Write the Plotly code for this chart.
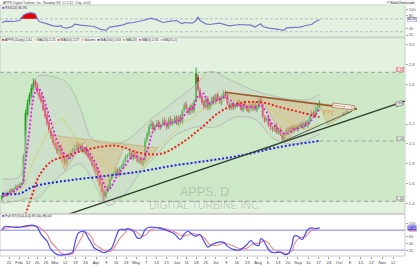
import plotly.graph_objects as go
import pandas as pd

# ---------------- data ----------------
opens = [1.45,1.47,1.50,1.48,1.51,1.54,1.52,1.55,1.58,1.56,
         1.59,1.61,1.88,2.30,2.42,2.48,2.55,2.63,2.60,2.52,
         2.49,2.44,2.36,2.29,2.22,2.13,2.09,2.01,1.99,1.92,
         1.98,1.90,1.86,1.80,1.86,1.87,1.92,1.93,1.97,2.00,
         1.94,1.99,1.92,1.96,1.91,1.88,1.85,1.80,1.77,1.73,
         1.66,1.60,1.53,1.47,1.52,1.56,1.65,1.69,1.71,1.74,
         1.69,1.76,1.77,1.83,1.87,1.89,1.91,1.85,1.91,1.88,
         1.82,1.86,1.80,1.84,2.04,2.09,2.18,2.21,2.14,2.19,
         2.22,2.16,2.20,2.24,2.21,2.16,2.25,2.20,2.22,2.27,
         2.20,2.28,2.22,2.34,2.40,2.35,2.31,2.39,2.33,2.44,
         2.67,2.54,2.48,2.43,2.37,2.46,2.36,2.40,2.47,2.42,
         2.50,2.46,2.41,2.47,2.52,2.49,2.40,2.36,2.41,2.37,
         2.38,2.43,2.40,2.34,2.42,2.38,2.33,2.40,2.35,2.41,
         2.34,2.37,2.45,2.40,2.27,2.24,2.26,2.20,2.16,2.14,
         2.19,2.11,2.15,2.09,2.05,2.10,2.15,2.12,2.17,2.13,
         2.18,2.14,2.17,2.20,2.16,2.22,2.18,2.22,2.28,2.32,
         2.28,2.34,2.38]
highs = [1.49,1.51,1.52,1.52,1.55,1.55,1.56,1.59,1.59,1.61,
         1.62,1.90,2.35,2.45,2.52,2.60,2.66,2.65,2.62,2.55,
         2.51,2.47,2.39,2.31,2.24,2.16,2.11,2.04,2.01,1.99,
         2.00,1.92,1.88,1.87,1.91,1.93,1.96,1.99,2.02,2.02,
         2.00,2.01,1.97,1.98,1.93,1.90,1.87,1.82,1.79,1.75,
         1.68,1.62,1.55,1.53,1.59,1.66,1.70,1.72,1.76,1.76,
         1.77,1.80,1.84,1.89,1.90,1.93,1.93,1.92,1.93,1.90,
         1.87,1.88,1.85,2.06,2.13,2.20,2.24,2.23,2.20,2.24,
         2.24,2.21,2.26,2.27,2.23,2.27,2.28,2.25,2.29,2.29,
         2.29,2.30,2.35,2.42,2.43,2.37,2.40,2.41,2.45,2.77,
         2.70,2.57,2.50,2.45,2.47,2.48,2.43,2.48,2.49,2.51,
         2.52,2.48,2.50,2.54,2.54,2.51,2.42,2.42,2.43,2.41,
         2.44,2.45,2.42,2.43,2.44,2.40,2.41,2.42,2.42,2.43,
         2.40,2.46,2.47,2.42,2.29,2.27,2.28,2.22,2.18,2.20,
         2.21,2.16,2.17,2.11,2.11,2.16,2.17,2.18,2.19,2.19,
         2.20,2.20,2.22,2.22,2.23,2.24,2.25,2.29,2.33,2.34,
         2.37,2.41,2.44]
lows = [1.43,1.46,1.47,1.47,1.50,1.51,1.51,1.54,1.55,1.55,
        1.57,1.60,1.86,2.28,2.39,2.46,2.53,2.56,2.50,2.45,
        2.41,2.33,2.25,2.18,2.11,2.05,1.99,1.95,1.90,1.90,
        1.87,1.82,1.78,1.78,1.84,1.86,1.90,1.91,1.95,1.93,
        1.92,1.91,1.90,1.88,1.85,1.82,1.77,1.73,1.69,1.62,
        1.57,1.50,1.42,1.45,1.50,1.55,1.63,1.67,1.69,1.68,
        1.67,1.74,1.75,1.81,1.85,1.87,1.84,1.83,1.85,1.81,
        1.80,1.79,1.78,1.82,2.01,2.07,2.15,2.13,2.12,2.17,
        2.14,2.14,2.18,2.18,2.14,2.15,2.18,2.18,2.20,2.19,
        2.18,2.20,2.20,2.32,2.34,2.29,2.29,2.31,2.31,2.42,
        2.52,2.45,2.39,2.35,2.35,2.34,2.34,2.38,2.40,2.40,
        2.43,2.40,2.39,2.45,2.46,2.39,2.34,2.34,2.34,2.35,
        2.36,2.37,2.33,2.32,2.35,2.32,2.31,2.34,2.33,2.33,
        2.32,2.35,2.39,2.26,2.21,2.22,2.17,2.14,2.12,2.12,
        2.10,2.09,2.08,2.03,2.03,2.08,2.11,2.10,2.12,2.11,
        2.13,2.12,2.15,2.15,2.14,2.17,2.16,2.20,2.26,2.27,
        2.26,2.32,2.36]
closes = [1.47,1.49,1.48,1.51,1.53,1.52,1.55,1.57,1.56,1.59,
          1.60,1.87,2.31,2.41,2.49,2.56,2.61,2.59,2.53,2.48,
          2.43,2.35,2.28,2.21,2.14,2.08,2.02,1.98,1.93,1.97,
          1.89,1.85,1.81,1.85,1.88,1.91,1.94,1.96,1.99,1.95,
          1.98,1.93,1.95,1.90,1.87,1.84,1.79,1.76,1.72,1.65,
          1.59,1.52,1.48,1.51,1.57,1.64,1.68,1.70,1.73,1.70,
          1.75,1.78,1.82,1.86,1.88,1.90,1.86,1.90,1.87,1.83,
          1.85,1.81,1.83,2.03,2.10,2.17,2.20,2.15,2.18,2.21,
          2.17,2.19,2.23,2.20,2.17,2.24,2.21,2.23,2.26,2.21,
          2.27,2.23,2.33,2.39,2.36,2.32,2.38,2.34,2.43,2.71,
          2.55,2.47,2.42,2.38,2.45,2.37,2.41,2.46,2.43,2.49,
          2.45,2.42,2.48,2.51,2.48,2.41,2.37,2.40,2.36,2.39,
          2.42,2.39,2.35,2.41,2.37,2.34,2.39,2.36,2.40,2.35,
          2.38,2.44,2.41,2.28,2.23,2.25,2.19,2.17,2.15,2.18,
          2.12,2.14,2.10,2.06,2.09,2.14,2.13,2.16,2.14,2.17,
          2.15,2.18,2.19,2.17,2.21,2.19,2.23,2.27,2.31,2.29,
          2.35,2.39,2.41]
days = list(range(len(closes)))

ma50_days = [12, 16, 19, 25, 33, 41, 50, 59, 70, 81, 91, 101, 111, 121, 132, 142, 152, 162]
ma50_vals = [1.29, 1.52, 1.68, 1.82, 1.88, 1.93, 1.97, 1.98, 1.91, 1.90, 2.00, 2.15, 2.32, 2.41, 2.42, 2.37, 2.32, 2.27]
ma200_days = [0, 9, 16, 33, 50, 70, 87, 105, 121, 142, 162]
ma200_vals = [1.50, 1.50, 1.57, 1.63, 1.67, 1.72, 1.78, 1.83, 1.88, 1.97, 2.03]

bb_up_days = [0, 9, 13, 16, 18, 25, 33, 40, 46, 55, 63, 76, 86, 99, 106, 116, 127, 137, 147, 157, 162]
bb_up_vals = [1.65, 1.67, 2.25, 2.55, 2.68, 2.68, 2.62, 2.35, 2.05, 2.00, 2.03, 2.25, 2.40, 2.60, 2.73,
              2.65, 2.55, 2.49, 2.45, 2.45, 2.50]
bb_lo_days = [0, 9, 13, 18, 25, 33, 40, 47, 54, 63, 70, 78, 88, 99, 109, 119, 129, 139, 150, 162]
bb_lo_vals = [1.40, 1.43, 1.45, 1.45, 1.60, 1.73, 1.80, 1.60, 1.38, 1.50, 1.70, 1.87, 2.08, 2.17, 2.17,
              2.27, 2.25, 2.05, 2.00, 2.10]

rsi_days = [0,2,6,9,11,13,15,17,18,19,23,26,29,30,31,33,36,37,40,43,
            47,50,53,55,59,62,64,67,72,75,76,79,82,86,89,92,93,97,99,100,
            101,104,106,111,116,121,127,129,132,133,136,140,144,145,149,152,155,158,160,162]
rsi_vals = [58.7,62.8,61.8,64.9,82.3,87.4,89.5,85.4,72.0,61.8,54.6,48.5,46.4,49.5,43.3,41.3,46.4,53.6,50.5,49.5,
            46.4,38.2,34.1,44.4,49.5,51.5,56.7,58.7,64.9,69.0,72.0,66.9,58.7,62.8,64.9,54.6,58.7,56.7,64.9,75.1,
            64.9,54.6,52.5,56.7,48.5,52.5,50.5,44.4,54.6,46.4,41.3,38.2,34.1,42.3,43.3,44.4,49.5,52.5,61.8,66.9]

sto_days = [0,1,2,6,9,13,16,18,20,23,25,28,30,33,36,37,39,41,42,44,
            46,47,50,52,54,56,58,60,63,64,67,69,71,73,75,78,81,83,86,88,
            91,93,95,97,99,101,103,105,106,109,113,115,118,121,125,127,129,131,132,133,
            135,137,139,142,144,146,148,149,151,153,155,156,158,160,162]
sto_k = [82,89,92,89,89,94,95,89,67,47,22,7,5,7,14,37,72,77,77,57,
         37,27,17,12,17,27,57,82,82,85,77,57,57,82,89,89,85,82,75,69,
         52,69,77,67,62,67,47,29,32,42,44,32,22,20,37,49,37,34,55,52,
         32,15,12,14,7,9,37,62,62,52,72,82,87,85,87]
sto_d = [80,84,87,90,90,91,93,92,84,68,45,25,11,6,9,19,41,62,75,70,
         57,40,27,19,15,19,34,55,74,83,81,73,63,65,76,87,88,85,80,75,
         65,63,66,71,68,65,58,43,36,34,40,39,33,25,26,35,41,40,42,47,
         46,33,20,14,11,10,18,36,54,59,62,69,80,85,86]

tick_days = [3.6, 8.7, 13.3, 17.9, 22.4, 27.0, 32.2, 37.4, 42.6, 48.0, 53.1, 58.2, 63.3,
             68.4, 73.6, 78.8, 84.0, 89.3, 94.2, 99.1, 104.0, 109.0, 114.4, 119.8, 125.2,
             130.6, 135.7, 140.8, 145.9, 151.0, 156.3, 161.5, 166.8, 172.0, 177.5, 183.0,
             188.5, 194.0, 199.5]
tick_labels = ["22", "Feb", "12", "20", "26", "Mar", "12", "19", "26", "Apr", "9", "16", "23",
               "May", "7", "14", "21", "Jun", "11", "18", "25", "Jul", "9", "16", "23",
               "Aug", "6", "13", "20", "Sep", "10", "17", "24", "Oct", "8", "15",
               "22", "Nov", "12"]

# chart annotations (pattern drawings, trend lines, levels)
hs1_days = [24.5, 32.1, 42.3, 51.5, 62.8, 71.9, 79.6, 24.5]
hs1_prices = [2.09, 1.73, 2.03, 1.45, 1.99, 1.77, 1.96, 2.09]
hs2_days = [113.8, 126.5, 132.7, 144.4, 161.2, 113.8]
hs2_prices = [2.52, 2.32, 2.45, 2.02, 2.41, 2.52]
tri_days = [161.2, 181.1, 166.3, 161.2]
tri_prices = [2.41, 2.36, 2.19, 2.41]
trend_long = [(33.7, 1.29), (205.6, 2.43)]
trend_short = [(133.7, 1.94), (178.6, 2.33)]
neckline = [(113.8, 2.52), (181.1, 2.35)]
level_hi = 2.72
level_lo = 1.42

# ---------------- derived indicators ----------------
s = pd.Series(closes)
sma5 = s.rolling(5, min_periods=1).mean()
sma20 = s.rolling(20, min_periods=5).mean()

XR = [-1.02, 205.6]
XD = [0, 0.9643]
RSI_DOM = [0.8592, 0.9811]
MAIN_DOM = [0.1887, 0.8566]
STO_DOM = [0.0264, 0.1849]

fig = go.Figure()

# Bollinger bands envelope
fig.add_trace(go.Scatter(x=bb_up_days + bb_lo_days[::-1], y=bb_up_vals + bb_lo_vals[::-1], mode="lines",
                         fill="toself", fillcolor="rgba(205,212,205,0.40)",
                         line=dict(color="rgba(0,0,0,0)", width=0), xaxis="x", yaxis="y2", hoverinfo="skip"))
for bd, bv in [(bb_up_days, bb_up_vals), (bb_lo_days, bb_lo_vals)]:
    fig.add_trace(go.Scatter(x=bd, y=bv, mode="lines", line=dict(color="#a8b0a8", width=0.7, shape="spline"),
                             xaxis="x", yaxis="y2", hoverinfo="skip"))
# pattern drawings
for dx, py in [(hs1_days, hs1_prices), (hs2_days, hs2_prices), (tri_days, tri_prices)]:
    fig.add_trace(go.Scatter(x=dx, y=py, mode="lines", fill="toself",
                             fillcolor="rgba(214,178,120,0.42)",
                             line=dict(color="rgba(170,130,70,0.55)", width=0.6),
                             xaxis="x", yaxis="y2", hoverinfo="skip"))
# SMA 20 thin yellow
fig.add_trace(go.Scatter(x=days, y=sma20, mode="lines", line=dict(color="#d8c83a", width=0.8, dash="2px,1px"),
                         xaxis="x", yaxis="y2", hoverinfo="skip"))
# candles
fig.add_trace(go.Candlestick(x=days, open=opens, high=highs, low=lows, close=closes,
                             increasing=dict(line=dict(color="#1e9e1e", width=0.9), fillcolor="#1e9e1e"),
                             decreasing=dict(line=dict(color="#e2103c", width=0.9), fillcolor="#e2103c"),
                             whiskerwidth=0, xaxis="x", yaxis="y2", hoverinfo="skip"))
# moving averages
fig.add_trace(go.Scatter(x=ma50_days, y=ma50_vals, mode="lines", line=dict(color="#ee2020", width=2, dash="2px,2px"),
                         line_shape="spline", xaxis="x", yaxis="y2", hoverinfo="skip"))
fig.add_trace(go.Scatter(x=ma200_days, y=ma200_vals, mode="lines", line=dict(color="#2020e8", width=2, dash="2px,2px"),
                         line_shape="spline", xaxis="x", yaxis="y2", hoverinfo="skip"))
fig.add_trace(go.Scatter(x=days, y=sma5, mode="lines", line=dict(color="#e020e0", width=1.8, dash="2px,2px"),
                         xaxis="x", yaxis="y2", hoverinfo="skip"))

# RSI
fig.add_trace(go.Scatter(x=rsi_days, y=[70] * len(rsi_days), mode="lines", line=dict(width=0, color="rgba(0,0,0,0)"),
                         xaxis="x", yaxis="y", hoverinfo="skip"))
fig.add_trace(go.Scatter(x=rsi_days, y=[max(v, 70) for v in rsi_vals], mode="lines",
                         line=dict(width=0, color="rgba(0,0,0,0)"), fill="tonexty", fillcolor="#e00000",
                         xaxis="x", yaxis="y", hoverinfo="skip"))
fig.add_trace(go.Scatter(x=rsi_days, y=rsi_vals, mode="lines", line=dict(color="#7676d0", width=1.2),
                         xaxis="x", yaxis="y", hoverinfo="skip"))

# Stochastics
fig.add_trace(go.Scatter(x=sto_days, y=sto_d, mode="lines", line=dict(color="#f08888", width=1.1, shape="spline"),
                         xaxis="x", yaxis="y3", hoverinfo="skip"))
fig.add_trace(go.Scatter(x=sto_days, y=sto_k, mode="lines", line=dict(color="#4a4aee", width=1.2, shape="spline"),
                         xaxis="x", yaxis="y3", hoverinfo="skip"))

shapes = []
# panel backgrounds
shapes.append(dict(type="rect", xref="paper", yref="paper", x0=XD[0], x1=XD[1], y0=RSI_DOM[0], y1=RSI_DOM[1],
                   fillcolor="#e3f2df", line=dict(color="#b8c4b8", width=0.8), layer="below"))
shapes.append(dict(type="rect", xref="paper", yref="paper", x0=XD[0], x1=XD[1], y0=MAIN_DOM[0], y1=MAIN_DOM[1],
                   fillcolor="#e3f2df", line=dict(color="#b8c4b8", width=0.8), layer="below"))
shapes.append(dict(type="rect", xref="paper", yref="y2", x0=XD[0], x1=XD[1], y0=level_lo, y1=level_hi,
                   fillcolor="#cde8c6", line=dict(width=0), layer="below"))
shapes.append(dict(type="rect", xref="paper", yref="paper", x0=XD[0], x1=XD[1], y0=STO_DOM[0], y1=STO_DOM[1],
                   fillcolor="#ffffff", line=dict(color="#c0c0c0", width=0.8), layer="below"))
# level lines
for lv in (level_hi, level_lo):
    shapes.append(dict(type="line", xref="paper", yref="y2", x0=XD[0], x1=XD[1], y0=lv, y1=lv,
                       line=dict(color="#a5b2a5", width=1.3, dash="4px,3px"), layer="above"))
shapes.append(dict(type="line", xref="x", yref="y2", x0=days[-1], x1=XR[1], y0=ma200_vals[-1], y1=ma200_vals[-1],
                   line=dict(color="#a5b2a5", width=1.2, dash="4px,3px"), layer="above"))
# RSI / stoch reference lines
for lv in (70, 30):
    shapes.append(dict(type="line", xref="paper", yref="y", x0=XD[0], x1=XD[1], y0=lv, y1=lv,
                       line=dict(color="#a8b8c8", width=0.9, dash="3px,2px"), layer="below"))
for lv in (80, 20):
    shapes.append(dict(type="line", xref="paper", yref="y3", x0=XD[0], x1=XD[1], y0=lv, y1=lv,
                       line=dict(color="#aaaaf2", width=1.3), layer="below"))
# trend lines
shapes.append(dict(type="line", xref="x", yref="y2", x0=trend_long[0][0], y0=trend_long[0][1],
                   x1=trend_long[1][0], y1=trend_long[1][1], line=dict(color="#2c3a2c", width=1.3)))
shapes.append(dict(type="line", xref="x", yref="y2", x0=trend_short[0][0], y0=trend_short[0][1],
                   x1=trend_short[1][0], y1=trend_short[1][1], line=dict(color="#405a40", width=0.9)))
shapes.append(dict(type="line", xref="x", yref="y2", x0=neckline[0][0], y0=neckline[0][1],
                   x1=neckline[1][0], y1=neckline[1][1], line=dict(color="#9c5a2c", width=1.6)))

ann = []
F = "Arial"
def txt(x, y, t, size=4, color="#333", xanchor="left", yanchor="middle", xref="paper", yref="paper", **kw):
    ann.append(dict(x=x, y=y, xref=xref, yref=yref, text=t, showarrow=False, xanchor=xanchor, yanchor=yanchor,
                    font=dict(size=size, color=color, family=F), **kw))

# title bar
txt(0.003, 0.988, "APPS Digital Turbine, Inc. Nasdaq GS  Cl %.2f  Chg +0.02" % closes[-1], size=3.4,
    color="#444")
txt(0.99, 0.988, "© StockCharts.com", size=3.2, color="#222", xanchor="right",
    bgcolor="#f2f2f2", borderpad=0)
# RSI legend
txt(0.003, 0.968, '<span style="color:#4040e0">■</span> RSI(14) %.2f' % rsi_vals[-1], size=3.5,
    bgcolor="rgba(240,240,240,0.8)", borderpad=0)
# main legend
leg = ('<span style="color:#c00000">■</span> APPS (Daily) %.2f  '
       '<span style="color:#d8c83a">■</span> MA(20) %.2f  '
       '<span style="color:#ee2020">■</span> MA(50) %.2f  '
       '<span style="color:#ff90b0">■</span> Volume  '
       '<span style="color:#2020e8">■</span> MA(200) %.2f  '
       '<span style="color:#a0a000">■</span> MA(13)  '
       '<span style="color:#e020e0">■</span> MA(5) %.2f  '
       '<span style="color:#999">■</span> BB(20,2)') % (closes[-1], sma20.iloc[-1], ma50_vals[-1],
                                                         ma200_vals[-1], sma5.iloc[-1])
txt(0.003, 0.849, leg, size=3.4, bgcolor="rgba(250,250,250,0.7)", borderpad=0)
# stoch legend
txt(0.003, 0.178, '<span style="color:#4040e0">■</span> Full STO(14,3,3) %.2f, %.2f' % (sto_k[-1], sto_d[-1]),
    size=3.5, bgcolor="rgba(240,240,240,0.8)", borderpad=0)
# watermark
txt(0.488, 0.2717, "APPS, D", size=12.5, color="rgba(120,130,120,0.35)", xanchor="center")
txt(0.488, 0.219, "DIGITAL TURBINE INC.", size=10.5, color="rgba(120,130,120,0.35)", xanchor="center")
# level labels
txt(XD[1] - 0.002, level_hi, "%.2f" % level_hi, size=3.6, color="#c00000", xanchor="right", yanchor="bottom",
    yref="y2", bgcolor="#fff4f4", bordercolor="#e06060", borderwidth=0.5, borderpad=0)
txt(XD[1] - 0.002, level_lo, "%.2f" % level_lo, size=3.6, color="#444", xanchor="right", yanchor="bottom",
    yref="y2", bgcolor="#f4f4f4", bordercolor="#999", borderwidth=0.5, borderpad=0)
txt(XD[1] - 0.002, ma200_vals[-1], "%.2f" % ma200_vals[-1], size=3.6, color="#444", xanchor="right",
    yanchor="bottom", yref="y2", bgcolor="#f4f4f4", bordercolor="#999", borderwidth=0.5, borderpad=0)
# line labels
txt(neckline[1][0] - 1, neckline[1][1] + 0.03, "Neckline  %.2f" % neckline[1][1], size=3.4, color="#9c5a2c",
    xanchor="right", xref="x", yref="y2", bgcolor="#ffffff", bordercolor="#9c5a2c", borderwidth=0.6,
    borderpad=0, textangle=7)
txt(trend_long[1][0] - 0.5, trend_long[1][1] - 0.02, "%.2f" % trend_long[1][1], size=3.4, color="#333",
    xanchor="right", xref="x", yref="y2", bgcolor="#f0f0f0", bordercolor="#555", borderwidth=0.5,
    borderpad=0, textangle=-19)
txt(trend_short[1][0], trend_short[1][1] - 0.02, "%.2f" % trend_short[1][1], size=3.4, color="#333",
    xanchor="right", xref="x", yref="y2", textangle=-25)
txt(166.5, 2.32, "???", size=7, color="#e8843c", xanchor="center", xref="x", yref="y2")
# right-axis value markers
txt(XD[1] + 0.004, closes[-1], "%.2f" % closes[-1], size=3.5, color="#333", bgcolor="#ffff70", borderpad=0)
txt(XD[1] + 0.004, sma5.iloc[-1] - 0.02, "%.2f" % sma5.iloc[-1], size=3.5, color="#e020e0")
txt(XD[1] + 0.004, ma50_vals[-1] - 0.04, "%.2f" % ma50_vals[-1], size=3.5, color="#ee2020")
txt(XD[1] + 0.004, sma20.iloc[-1] - 0.04, "%.2f" % sma20.iloc[-1], size=3.5, color="#b0a020")
txt(XD[1] + 0.004, ma200_vals[-1], "%.2f" % ma200_vals[-1], size=3.5, color="#ffffff", bgcolor="#3a3aee",
    borderpad=0)
txt(XD[1] + 0.004, rsi_vals[-1], "%.2f" % rsi_vals[-1], size=3.5, color="#333", yref="y",
    bgcolor="#eeeeff", bordercolor="#8888cc", borderwidth=0.4, borderpad=0)
txt(XD[1] + 0.004, sto_k[-1] + 1, "%.2f" % sto_k[-1], size=3.2, color="#ffffff", yref="y3",
    bgcolor="#4a4aee", borderpad=0)
txt(XD[1] + 0.004, sto_d[-1] - 9, "%.2f" % sto_d[-1], size=3.2, color="#e04040", yref="y3")

axis_font = dict(size=4, color="#555", family=F)
fig.update_layout(
    width=420, height=265, margin=dict(l=0, r=0, t=0, b=0),
    paper_bgcolor="#ffffff", plot_bgcolor="rgba(0,0,0,0)", showlegend=False,
    shapes=shapes, annotations=ann,
    xaxis=dict(domain=XD, range=XR, anchor="y3", tickvals=tick_days, ticktext=tick_labels,
               tickfont=dict(size=4.3, color="#444", family=F), tickangle=0, ticks="outside", ticklen=2,
               tickcolor="#999", showgrid=False, zeroline=False, showline=False,
               rangeslider=dict(visible=False)),
    yaxis=dict(domain=RSI_DOM, range=[13.7, 113], side="right", anchor="x", tickvals=[20, 40, 80, 100],
               tickfont=axis_font, ticks="outside", ticklen=2, tickcolor="#aaa", showgrid=False,
               zeroline=False, showline=False),
    yaxis2=dict(domain=MAIN_DOM, range=[1.30, 3.07], side="right", anchor="x",
                tickvals=[1.4, 1.6, 1.8, 2.0, 2.2, 2.6, 2.8, 3.0], tickformat=".1f",
                tickfont=axis_font, ticks="outside", ticklen=2, tickcolor="#aaa", showgrid=False,
                zeroline=False, showline=False),
    yaxis3=dict(domain=STO_DOM, range=[2, 128], side="right", anchor="x", tickvals=[20, 40, 60, 100],
                tickfont=axis_font, ticks="outside", ticklen=2, tickcolor="#aaa", showgrid=False,
                zeroline=False, showline=False),
)

fig.write_html("out.html", config={"displayModeBar": False})
